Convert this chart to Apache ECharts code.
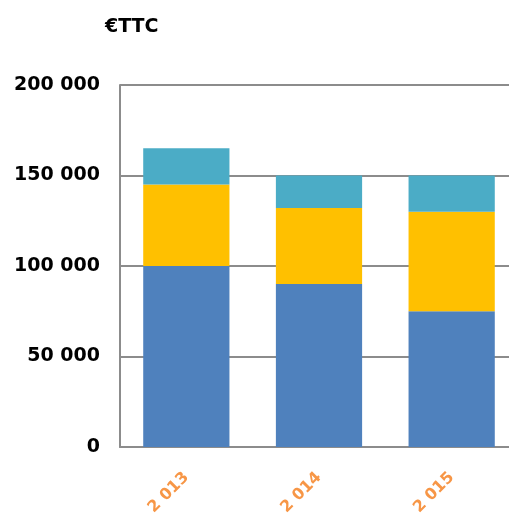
<!DOCTYPE html>
<html>
<head>
<meta charset="utf-8">
<script src="https://cdn.jsdelivr.net/npm/echarts@6/dist/echarts.min.js"></script>
<style>html,body{margin:0;padding:0;background:#fff}#c{width:509px;height:513px}</style>
</head>
<body>
<div id="c"></div>
<script>
const categories = ['2 013', '2 014', '2 015'];
const serie1 = [100000, 90000, 75000];
const serie2 = [45000, 42000, 55000];
const serie3 = [20000, 18000, 20000];
const yTicks = [0, 50000, 100000, 150000, 200000];

const chart = echarts.init(document.getElementById('c'));
const fmt = v => v === 0 ? '0' : String(v).replace(/\B(?=(\d{3})+(?!\d))/g, ' ');
chart.setOption({
  animation: false,
  title: {
    text: '€TTC', left: 100, top: 13,
    textStyle: { fontFamily: 'DejaVu Sans', fontWeight: 'bold', fontSize: 19, color: '#000' }
  },
  grid: { left: 120, top: 85, width: 398, height: 362, outerBoundsMode: 'none', containLabel: false },
  xAxis: {
    type: 'category', data: categories,
    axisLine: { lineStyle: { color: '#8c8c8c', width: 2 } },
    axisTick: { show: false },
    axisLabel: { rotate: 45, margin: 28, color: '#F79646', fontFamily: 'DejaVu Sans', fontWeight: 'bold', fontSize: 16 }
  },
  yAxis: {
    type: 'value', min: yTicks[0], max: yTicks[yTicks.length - 1], interval: 50000,
    axisLine: { show: true, lineStyle: { color: '#8c8c8c', width: 2 } },
    axisTick: { show: false },
    splitLine: { lineStyle: { color: '#8c8c8c', width: 2 } },
    axisLabel: { margin: 20, color: '#000', fontFamily: 'DejaVu Sans', fontWeight: 'bold', fontSize: 19, formatter: fmt }
  },
  series: [
    { name: 'Série 1', type: 'bar', stack: 't', data: serie1, barWidth: '65%', itemStyle: { color: '#4F81BD' } },
    { name: 'Série 2', type: 'bar', stack: 't', data: serie2, barWidth: '65%', itemStyle: { color: '#FFC000' } },
    { name: 'Série 3', type: 'bar', stack: 't', data: serie3, barWidth: '65%', itemStyle: { color: '#4BACC6' } }
  ]
});
</script>
</body>
</html>
